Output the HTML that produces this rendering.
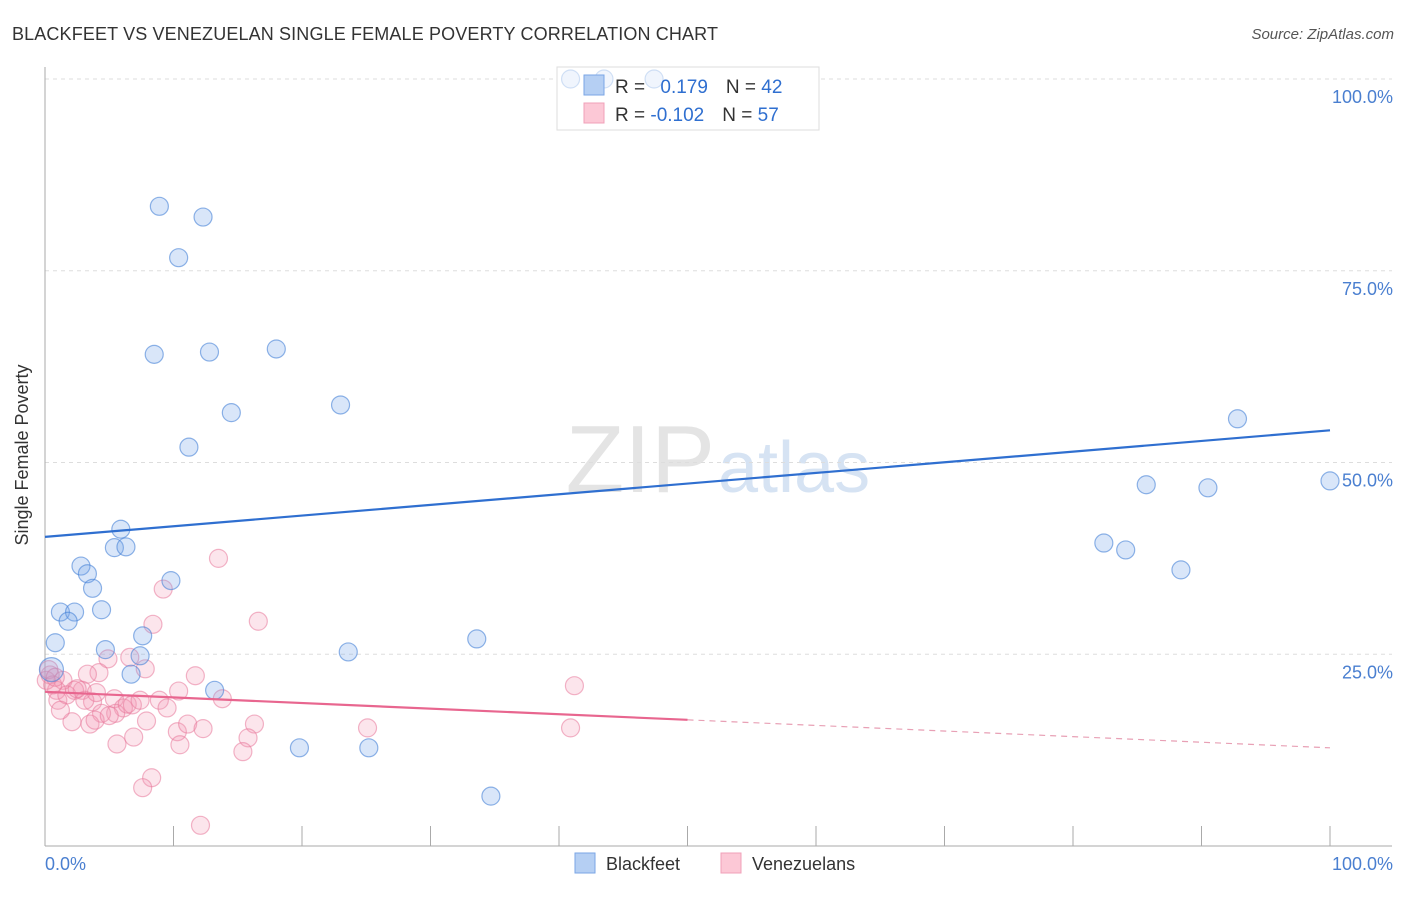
<!DOCTYPE html>
<html><head><meta charset="utf-8">
<style>
body{margin:0;background:#fff;font-family:"Liberation Sans",sans-serif;}
svg text{font-family:"Liberation Sans",sans-serif;}
</style></head>
<body>
<svg width="1406" height="892" viewBox="0 0 1406 892">
<text x="12" y="40" font-size="18" fill="#333" textLength="706">BLACKFEET VS VENEZUELAN SINGLE FEMALE POVERTY CORRELATION CHART</text>
<text x="1394" y="39" font-size="15" fill="#555" font-style="italic" text-anchor="end">Source: ZipAtlas.com</text>
<text x="715" y="492" font-size="96" fill="#e4e4e4" font-family="Liberation Serif" text-anchor="end">ZIP</text>
<text x="718" y="492" font-size="72" fill="#d6e3f3">atlas</text>
<g id="grid"></g>
<g id="axes"></g>
<g>
<rect x="557" y="67" width="262" height="63" fill="#fff" stroke="#ddd"/>
</g>
<g id="pts"></g>
<g id="lines"></g>
<g>
<rect x="557" y="67" width="262" height="63" fill="rgba(255,255,255,0.6)" stroke="#ddd"/>
<rect x="584" y="75" width="20" height="20" fill="#b5cff3" stroke="#7aa6e6"/>
<rect x="584" y="103" width="20" height="20" fill="#fcc8d6" stroke="#f0a0b8"/>
<text x="615" y="93" font-size="19" fill="#333">R = <tspan fill="#2f6fd0" dx="10">0.179</tspan><tspan fill="#333" dx="18">N = </tspan><tspan fill="#2f6fd0">42</tspan></text>
<text x="615" y="121" font-size="19" fill="#333">R = <tspan fill="#2f6fd0">-0.102</tspan><tspan fill="#333" dx="18">N = </tspan><tspan fill="#2f6fd0">57</tspan></text>
</g>
<text x="28" y="455" font-size="18" fill="#333" text-anchor="middle" transform="rotate(-90 28 455)">Single Female Poverty</text>
<text x="45" y="870" font-size="18" fill="#4a7fd0">0.0%</text>
<text x="1393" y="870" font-size="18" fill="#4a7fd0" text-anchor="end">100.0%</text>
<g>
<rect x="575" y="853" width="20" height="20" fill="#b5cff3" stroke="#7aa6e6"/>
<text x="606" y="870" font-size="18" fill="#333">Blackfeet</text>
<rect x="721" y="853" width="20" height="20" fill="#fcc8d6" stroke="#f0a0b8"/>
<text x="752" y="870" font-size="18" fill="#333">Venezuelans</text>
</g>
</svg>
<script>
const yTicks=[25,50,75,100];
const yTickLabels=["25.0%","50.0%","75.0%","100.0%"];
const xTicks=[0,10,20,30,40,50,60,70,80,90,100];
const blackfeetX=[40.9,43.5,47.4,8.9,12.3,10.4,8.5,12.8,18.0,14.5,23.0,11.2,5.9,5.4,6.3,2.8,3.3,3.7,1.2,2.3,4.4,1.8,0.8,4.7,7.6,9.8,7.4,6.7,13.2,23.6,33.6,19.8,25.2,34.7,92.8,85.7,90.5,100,82.4,84.1,88.4,0.5];
const blackfeetY=[100,100,100,83.4,82.0,76.7,64.1,64.4,64.8,56.5,57.5,52.0,41.3,38.9,39.0,36.5,35.5,33.6,30.5,30.5,30.8,29.3,26.5,25.6,27.4,34.6,24.8,22.4,20.3,25.3,27.0,12.8,12.8,6.5,55.7,47.1,46.7,47.6,39.5,38.6,36.0,23.0];
const venezX=[13.5,9.2,16.6,8.4,4.9,7.8,6.6,11.7,10.4,13.8,4.2,3.3,2.9,2.3,1.4,0.4,0.9,1.0,1.7,3.7,5.4,6.1,5.5,4.4,6.4,2.1,3.5,3.9,7.9,6.9,5.6,10.3,11.1,12.3,16.3,15.8,15.4,25.1,40.9,41.2,8.3,7.6,12.1,0.1,1.2,6.8,3.1,7.4,8.9,10.5,0.3,0.6,2.5,5.0,9.5,4.0,0.8];
const venezY=[37.5,33.5,29.3,28.9,24.4,23.1,24.6,22.2,20.2,19.2,22.6,22.4,20.3,20.3,21.6,22.3,20.3,19.0,19.7,18.8,19.2,18.0,17.3,17.3,18.5,16.2,15.9,16.4,16.3,14.2,13.3,14.9,15.9,15.3,15.9,14.1,12.3,15.4,15.4,20.9,8.9,7.6,2.7,21.6,17.7,18.4,19.0,19.0,19.0,13.2,23.0,21.0,20.5,17.0,18.0,20.0,22.0];
const blueTrend=[40.3,54.2];
const pinkTrend=[20.1,12.8];
const pinkSolidEnd=50;

const NS="http://www.w3.org/2000/svg";
const X0=45,X1=1330,Y0=846,Y1=79;
function sx(v){return X0+(X1-X0)*v/100;}
function sy(v){return Y0-(Y0-Y1)*v/100;}
function mk(tag,attrs,parent){const e=document.createElementNS(NS,tag);for(const k in attrs)e.setAttribute(k,attrs[k]);parent.appendChild(e);return e;}
const grid=document.getElementById('grid'),axes=document.getElementById('axes'),pts=document.getElementById('pts'),lines=document.getElementById('lines');
yTicks.forEach((t,i)=>{
 const l=mk('line',{x1:45,x2:1392,y1:sy(t),y2:sy(t),stroke:'#ddd','stroke-dasharray':'4,4'},grid);
 
 
 const tx=mk('text',{x:1393,y:sy(t)+24,'font-size':18,fill:'#4a7fd0','text-anchor':'end'},grid);
 tx.textContent=yTickLabels[i];
 
 
});
const ya=mk('line',{x1:45,x2:45,y1:67,y2:846,stroke:'#aaa'},axes);


const xa=mk('line',{x1:45,x2:1392,y1:846,y2:846,stroke:'#aaa'},axes);


xTicks.forEach(t=>{
 const l=mk('line',{x1:sx(t),x2:sx(t),y1:826,y2:846,stroke:'#aaa'},axes);
 
 
});
venezX.forEach((x,i)=>{
 const c=mk('circle',{cx:sx(x),cy:sy(venezY[i]),r:9,fill:'rgba(244,150,178,0.25)',stroke:'rgba(232,120,155,0.55)','stroke-width':1.2},pts);
 
 
});
blackfeetX.forEach((x,i)=>{
 const c=mk('circle',{cx:sx(x),cy:sy(blackfeetY[i]),r:(i===blackfeetX.length-1?12:9),fill:'rgba(120,165,235,0.28)',stroke:'rgba(70,130,215,0.6)','stroke-width':1.2},pts);
 
 
});
const bl=mk('line',{x1:sx(0),y1:sy(blueTrend[0]),x2:sx(100),y2:sy(blueTrend[1]),stroke:'#2f6fd0','stroke-width':2.2},lines);


const pm=pinkTrend[0]+(pinkTrend[1]-pinkTrend[0])*pinkSolidEnd/100;
const pl=mk('line',{x1:sx(0),y1:sy(pinkTrend[0]),x2:sx(pinkSolidEnd),y2:sy(pm),stroke:'#e8668f','stroke-width':2.2},lines);


const pd=mk('line',{x1:sx(pinkSolidEnd),y1:sy(pm),x2:sx(100),y2:sy(pinkTrend[1]),stroke:'#e8a0b5','stroke-width':1.2,'stroke-dasharray':'6,5'},lines);


</script>
</body></html>
